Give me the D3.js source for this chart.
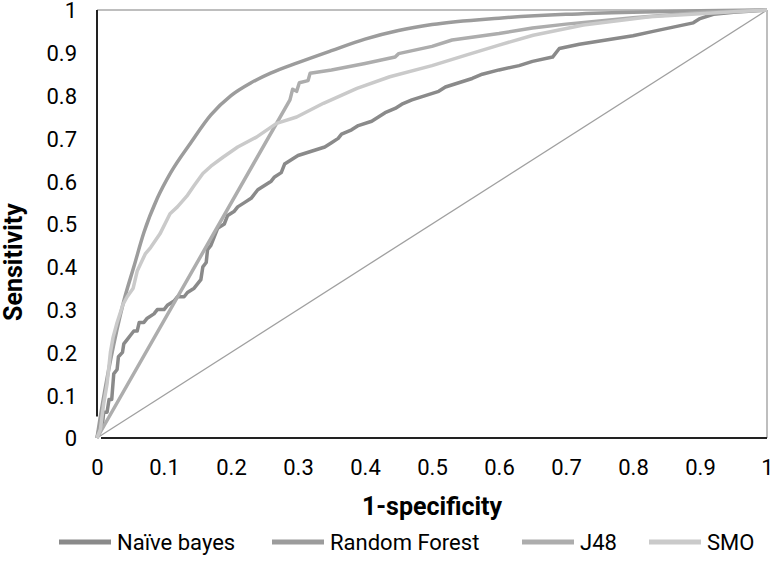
<!DOCTYPE html>
<html><head><meta charset="utf-8">
<script src="https://cdn.jsdelivr.net/npm/d3@7"></script>
<style>body{margin:0;background:#fff}svg{display:block}</style>
</head><body><svg id="c" width="774" height="561"></svg>
<script>
const xTicks = [0,0.1,0.2,0.3,0.4,0.5,0.6,0.7,0.8,0.9,1];
const yTicks = [0,0.1,0.2,0.3,0.4,0.5,0.6,0.7,0.8,0.9,1];
const seriesNames = ["Naïve bayes","Random Forest","J48","SMO"];
const seriesColors = ["#8a8a8a","#9c9c9c","#adadad","#cacaca"];
const naiveBayes = [[0,0],[0.003,0.02],[0.008,0.03],[0.01,0.06],[0.015,0.06],[0.018,0.09],[0.022,0.09],[0.025,0.15],[0.03,0.16],[0.032,0.19],[0.038,0.2],[0.04,0.22],[0.045,0.23],[0.05,0.24],[0.055,0.25],[0.06,0.25],[0.063,0.27],[0.07,0.27],[0.075,0.28],[0.085,0.29],[0.09,0.3],[0.1,0.3],[0.105,0.31],[0.115,0.32],[0.12,0.33],[0.13,0.33],[0.135,0.34],[0.145,0.35],[0.15,0.36],[0.155,0.37],[0.158,0.4],[0.163,0.41],[0.165,0.44],[0.17,0.45],[0.175,0.47],[0.18,0.49],[0.19,0.5],[0.195,0.52],[0.205,0.53],[0.21,0.54],[0.22,0.55],[0.23,0.56],[0.24,0.58],[0.25,0.59],[0.26,0.6],[0.265,0.61],[0.275,0.62],[0.28,0.64],[0.29,0.65],[0.3,0.66],[0.32,0.67],[0.34,0.68],[0.35,0.69],[0.36,0.7],[0.365,0.71],[0.38,0.72],[0.39,0.73],[0.41,0.74],[0.42,0.75],[0.43,0.76],[0.445,0.77],[0.455,0.78],[0.47,0.79],[0.49,0.8],[0.51,0.81],[0.52,0.82],[0.54,0.83],[0.56,0.84],[0.575,0.85],[0.6,0.86],[0.63,0.87],[0.65,0.88],[0.68,0.89],[0.69,0.91],[0.72,0.92],[0.76,0.93],[0.8,0.94],[0.83,0.95],[0.86,0.96],[0.89,0.97],[0.9,0.98],[0.92,0.99],[0.95,0.995],[1,1]];
const randomForest = [[0,0],[0.005,0.05],[0.02,0.18],[0.04,0.32],[0.055,0.4],[0.07,0.48],[0.09,0.56],[0.11,0.62],[0.14,0.69],[0.17,0.755],[0.2,0.8],[0.23,0.83],[0.26,0.853],[0.3,0.877],[0.35,0.905],[0.4,0.932],[0.45,0.952],[0.5,0.966],[0.6,0.981],[0.7,0.99],[0.8,0.995],[0.9,0.998],[1,1]];
const j48 = [[0,0],[0.288,0.79],[0.292,0.815],[0.298,0.81],[0.302,0.83],[0.315,0.835],[0.318,0.852],[0.35,0.86],[0.4,0.875],[0.445,0.89],[0.45,0.898],[0.5,0.915],[0.53,0.93],[0.6,0.945],[0.65,0.958],[0.7,0.967],[0.8,0.982],[0.9,0.994],[1,1]];
const smo = [[0,0],[0.005,0.02],[0.01,0.08],[0.015,0.126],[0.02,0.2],[0.024,0.235],[0.03,0.27],[0.039,0.313],[0.045,0.33],[0.054,0.35],[0.06,0.39],[0.072,0.43],[0.08,0.445],[0.094,0.477],[0.109,0.524],[0.12,0.54],[0.134,0.565],[0.145,0.59],[0.158,0.618],[0.17,0.635],[0.188,0.656],[0.21,0.68],[0.238,0.703],[0.268,0.735],[0.298,0.75],[0.338,0.782],[0.388,0.817],[0.437,0.844],[0.5,0.87],[0.552,0.895],[0.6,0.918],[0.651,0.941],[0.726,0.965],[0.825,0.984],[0.95,0.996],[1,1]];
const seriesData = [naiveBayes, randomForest, j48, smo];

const svg = d3.select("#c");
const x = d3.scaleLinear().domain([0,1]).range([97,767]);
const y = d3.scaleLinear().domain([0,1]).range([438,10]);
const tickFont = "Roboto, 'Liberation Sans', sans-serif";

svg.append("line").attr("x1",x(0)).attr("x2",x(1)).attr("y1",y(1)).attr("y2",y(1)).attr("stroke","#a8a8a8").attr("stroke-width",1.5);
svg.append("line").attr("x1",x(1)).attr("x2",x(1)).attr("y1",y(1)).attr("y2",y(0)).attr("stroke","#a8a8a8").attr("stroke-width",1.5);

svg.append("line").attr("x1",x(0)).attr("y1",y(0)).attr("x2",x(1)).attr("y2",y(1)).attr("stroke","#a0a0a0").attr("stroke-width",1.3);

svg.append("line").attr("x1",x(0)).attr("x2",x(0)).attr("y1",y(1)).attr("y2",y(0.05)).attr("stroke","#222").attr("stroke-width",2);
svg.append("line").attr("x1",x(0.006)).attr("x2",x(1)).attr("y1",y(0)).attr("y2",y(0)).attr("stroke","#222").attr("stroke-width",2);

const line = d3.line().x(d=>x(d[0])).y(d=>y(d[1]));
const smooth = d3.line().x(d=>x(d[0])).y(d=>y(d[1])).curve(d3.curveMonotoneX);
seriesData.forEach((s,i)=>{
  svg.append("path").datum(s).attr("d", i===1 ? smooth : line).attr("fill","none")
    .attr("stroke",seriesColors[i]).attr("stroke-width",3.5).attr("stroke-linejoin","round");
});

const xAxis = d3.axisBottom(x).tickValues(xTicks).tickSize(0).tickPadding(0).tickFormat(d3.format("~g"));
const gx = svg.append("g").attr("transform","translate(0,"+y(0)+")").call(xAxis);
gx.select(".domain").remove();
gx.selectAll("text").attr("dy",0).attr("y",37).attr("font-family",tickFont).attr("font-size",22).attr("fill","#000");

const yAxis = d3.axisLeft(y).tickValues(yTicks).tickSize(0).tickPadding(0).tickFormat(d3.format("~g"));
const gy = svg.append("g").attr("transform","translate(77,0)").call(yAxis);
gy.select(".domain").remove();
gy.selectAll("text").attr("x",0).attr("dy","0.36em").attr("font-family",tickFont).attr("font-size",22).attr("fill","#000");

svg.append("text").attr("x",432).attr("y",515).attr("text-anchor","middle")
  .attr("font-family",tickFont).attr("font-weight","bold").attr("font-size",25).text("1-specificity");
svg.append("text").attr("transform","translate(22,262) rotate(-90)").attr("text-anchor","middle")
  .attr("font-family",tickFont).attr("font-weight","bold").attr("font-size",25).text("Sensitivity");

const legX = [59,272,522,649];
const lg = svg.append("g");
seriesNames.forEach((n,i)=>{
  lg.append("line").attr("x1",legX[i]).attr("x2",legX[i]+52).attr("y1",542).attr("y2",542)
    .attr("stroke",seriesColors[i]).attr("stroke-width",5);
  lg.append("text").attr("x",legX[i]+58).attr("y",550).attr("font-family",tickFont).attr("font-size",22).text(n);
});
</script></body></html>
